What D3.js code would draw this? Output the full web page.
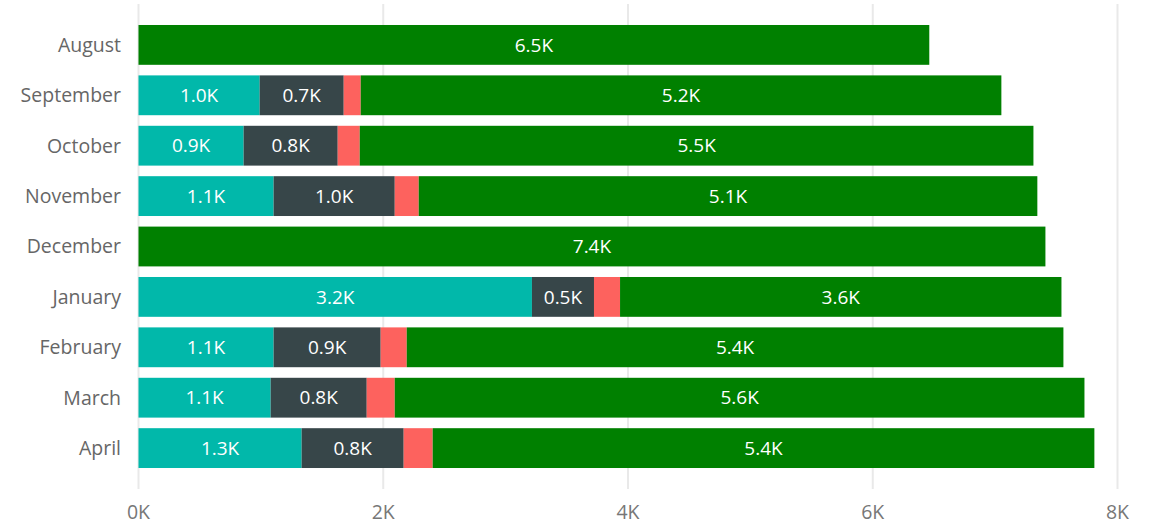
<!DOCTYPE html>
<html>
<head>
<meta charset="utf-8">
<script src="https://cdn.jsdelivr.net/npm/d3@7"></script>
<style>
  html, body { margin: 0; padding: 0; background: #fff; }
  svg { display: block; font-family: "Segoe UI", "Open Sans", "Noto Sans", sans-serif; }
</style>
</head>
<body>
<svg id="chart" width="1160" height="526"></svg>
<script>
// Monthly totals (in thousands), stacked left to right
const months = ["August", "September", "October", "November", "December",
                "January", "February", "March", "April"];
const seriesA = [0, 0.99, 0.859, 1.104, 0, 3.215, 1.104, 1.08, 1.333];
const seriesB = [0, 0.687, 0.769, 0.99, 0, 0.507, 0.875, 0.785, 0.834];
const seriesC = [0, 0.139, 0.18, 0.196, 0, 0.213, 0.213, 0.229, 0.237];
const seriesD = [6.462, 5.235, 5.505, 5.055, 7.411, 3.607, 5.366, 5.636, 5.407];
const seriesKeys = ["a", "b", "c", "d"];
const seriesColors = ["#01B8AA", "#374649", "#FD625E", "#008000"];
const xTicks = [0, 2, 4, 6, 8];

const rows = months.map((m, i) => ({
  month: m, a: seriesA[i], b: seriesB[i], c: seriesC[i], d: seriesD[i]
}));

const svg = d3.select("#chart");

const x = d3.scaleLinear().domain([0, 8]).range([138.5, 1117.5]);
const y = d3.scaleBand().domain(months).range([19.7, 473.3])
  .paddingInner(0.21).paddingOuter(0.105);

// vertical gridlines
svg.append("g").selectAll("line").data(xTicks).join("line")
  .attr("x1", d => x(d)).attr("x2", d => x(d))
  .attr("y1", 4).attr("y2", 489)
  .attr("stroke", "#e9e9e9").attr("stroke-width", 2);

// x axis tick labels
svg.append("g").selectAll("text").data(xTicks).join("text")
  .attr("x", d => x(d)).attr("y", 519)
  .attr("text-anchor", "middle")
  .attr("font-size", "19.5px").attr("fill", "#777")
  .text(d => d + "K");

// category labels
svg.append("g").selectAll("text").data(months).join("text")
  .attr("x", 121).attr("y", d => y(d) + y.bandwidth() / 2)
  .attr("dy", "0.35em").attr("text-anchor", "end")
  .attr("font-size", "19.5px").attr("fill", "#666")
  .text(d => d);

const stack = d3.stack().keys(seriesKeys)(rows);
const fmt = v => v.toFixed(1) + "K";

const layers = svg.append("g").selectAll("g").data(stack).join("g")
  .attr("fill", (d, i) => seriesColors[i]);

layers.selectAll("rect").data(d => d).join("rect")
  .attr("x", d => x(d[0]))
  .attr("y", d => y(d.data.month))
  .attr("width", d => Math.max(0, x(d[1]) - x(d[0])))
  .attr("height", y.bandwidth());

// value labels on segments wide enough to hold them
svg.append("g").selectAll("g").data(stack).join("g")
  .selectAll("text")
  .data(d => d.filter(s => x(s[1]) - x(s[0]) > 50))
  .join("text")
  .attr("x", d => (x(d[0]) + x(d[1])) / 2)
  .attr("y", d => y(d.data.month) + y.bandwidth() / 2)
  .attr("dy", "0.35em").attr("text-anchor", "middle")
  .attr("font-size", "19px").attr("fill", "#fff")
  .text(d => fmt(d[1] - d[0]));
</script>
</body>
</html>
